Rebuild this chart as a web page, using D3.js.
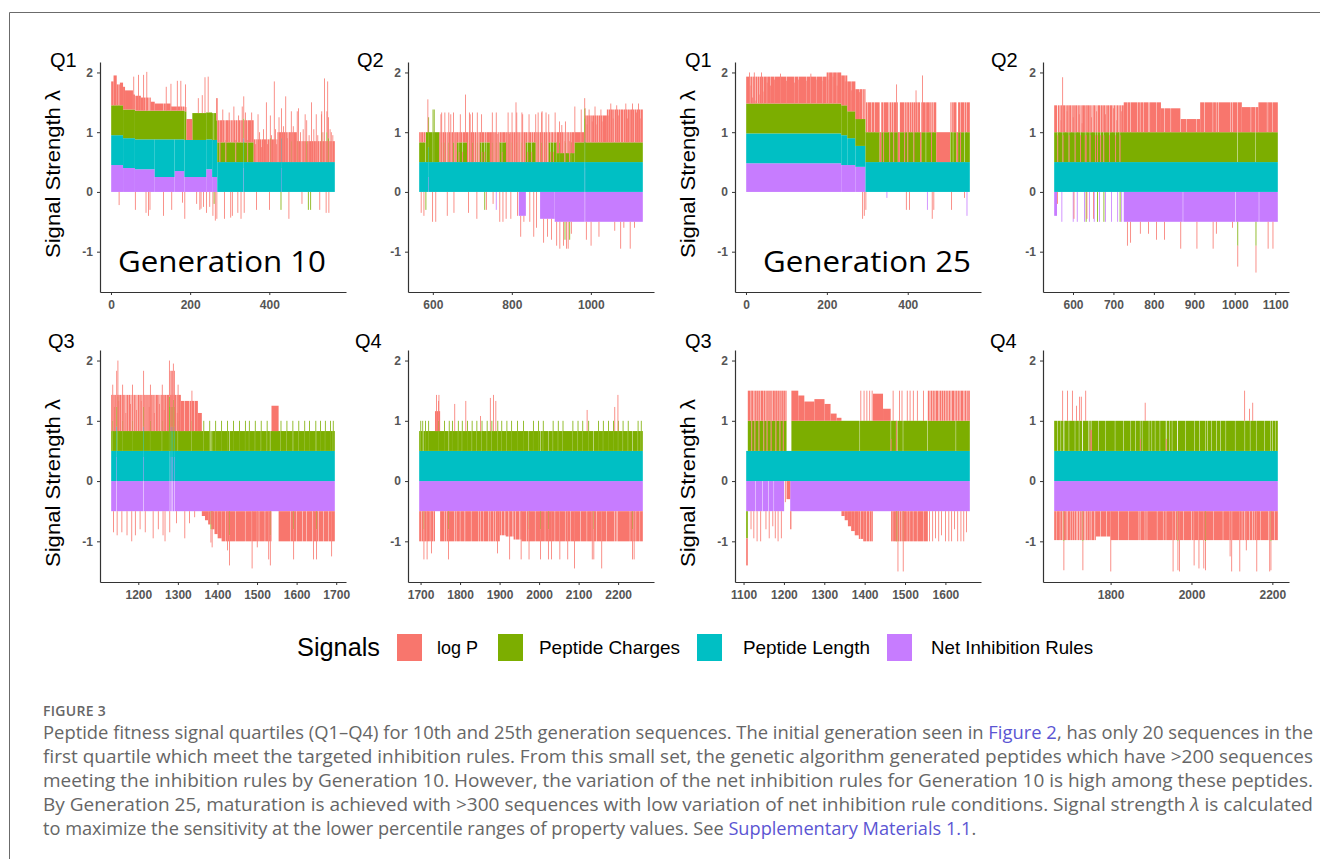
<!DOCTYPE html>
<html>
<head>
<meta charset="utf-8">
<script src="https://cdn.jsdelivr.net/npm/d3@7"></script>
<style>
body { margin: 0; background: #fff; }
svg { display: block; }
.tick text { font-family: "Liberation Sans", Arial, sans-serif; font-size: 12px; font-weight: bold; fill: #555; }
</style>
</head>
<body>
<svg width="1320" height="859"></svg>
<script>
// Runs are [firstSeq, lastSeq, value]; spikes are single sequences that differ from the run.
// Spike groups: [signal, [[seq, value], ...]] or [signal, value, [seq, ...]]

// Generation 10, Q1 (sequences 1-565)
const g10q1Net = [[1,30,0.45],[31,60,0.4],[61,110,0.38],[111,160,0.25],[161,185,0.35],[186,240,0.25],[241,255,0.38],[256,268,0.25]];
const g10q1Len = [[1,110,0.5],[111,160,0.63],[161,185,0.53],[186,240,0.62],[241,255,0.5],[256,268,0.62],[269,565,0.5]];
const g10q1Chg = [[1,30,0.5],[31,190,0.48],[191,205,0],[206,265,0.45],[266,360,0.33],[361,565,0]];
const g10q1LogP = [[1,6,0.4],[7,14,0.5],[15,22,0.35],[23,35,0.38],[36,55,0.32],[56,75,0.25],[76,100,0.22],[101,110,0.15],[111,150,0.12],[151,190,0.07],[191,205,0.35],[206,265,0],[266,360,0.37],[361,420,0.38],[421,470,0.5],[471,565,0.35]];
const g10q1Spikes = [
  ["logP", [[57,0.55],[69,0.6],[82,0.6],[90,0.65],[139,0.4],[151,0.45],[167,0.5],[176,0.5],[188,0.45],[220,0.25],[230,0.3],[237,0.6],[245,0.6],[282,0.55],[298,0.5],[310,0.6],[322,0.45],[331,0.6],[339,0.5],[355,0.5],[371,0.8],[392,1.0],[412,1.35],[424,0.75],[441,1.1],[473,0.9],[490,0.8],[506,1.0],[518,0.8],[531,0.8],[539,1.4],[547,1.35],[556,0.5]]],
  ["logP", [[365,0.3],[375,0.5],[380,0.25],[385,0.55],[395,0.3],[405,0.45],[415,0.55],[418,0.3],[435,0.6],[445,0.4],[460,0.6],[478,0.5],[485,0.55],[495,0.3],[500,0.45],[512,0.55],[522,0.45],[535,0.5],[553,0.55],[560,0.45]]],
  ["logP", [[20,-0.22],[61,-0.3],[88,-0.35],[94,-0.4],[98,-0.3],[132,-0.4],[153,-0.3],[180,-0.18],[186,-0.45],[216,-0.2],[224,-0.3],[227,-0.28],[233,-0.25],[241,-0.35],[249,-0.25],[257,-0.4],[263,-0.48],[267,-0.45],[286,-0.45],[302,-0.43],[306,-0.4],[320,-0.35],[328,-0.45],[336,-0.35],[367,-0.3],[400,-0.3],[449,-0.45],[482,-0.2],[527,-0.3],[543,-0.35],[550,-0.35]]],
  ["chg", [[260,-0.2],[429,-0.3],[498,-0.3],[504,-0.3],[402,0.4],[455,0.35],[470,0.35],[494,0.35],[532,0.5],[545,0.5],[549,0.4],[275,0],[290,0],[315,0],[345,0]]],
  ["net", [[335,0.4],[430,0.4]]]
];

// Generation 10, Q2 (sequences 566-1131)
const g10q2Net = [[818,835,-0.4],[872,908,-0.45],[909,1131,-0.5]];
const g10q2Len = [[566,1131,0.5]];
const g10q2Chg = [[566,581,0.33],[582,616,0.5],[617,660,0],[661,686,0.33],[687,718,0],[719,744,0.33],[745,768,0],[769,785,0.33],[786,834,0],[835,860,0.33],[861,892,0],[893,913,0.33],[914,958,0.15],[959,1131,0.33]];
const g10q2LogP = [[566,581,0.17],[582,616,0],[617,660,0.5],[661,686,0.17],[687,718,0.5],[719,744,0.17],[745,768,0.5],[769,785,0.17],[786,834,0.5],[835,860,0.17],[861,892,0.5],[893,913,0.17],[914,958,0.35],[959,985,0.17],[986,1040,0.45],[1041,1131,0.55]];
const g10q2Spikes = [
  ["chg", 0.33, [622,630,640,652,692,700,712,750,760,790,800,812,825,866,875,886,920,935,950]],
  ["chg", 0, [666,675,724,735,775,840,850,898,905]],
  ["logP", 0, [625,635,648,656,695,705,715,755,765,795,805,818,829,870,880,890]],
  ["logP", [[990,0.3],[995,0.55],[1003,0.35],[1010,0.6],[1015,0.3],[1025,0.55],[1030,0.35],[1045,0.45],[1050,0.65],[1056,0.4],[1065,0.62],[1070,0.45],[1088,0.65],[1092,0.4],[1105,0.65],[1115,0.5],[1120,0.65],[1126,0.4]]],
  ["logP", [[587,0.55],[620,0.8],[645,0.8],[669,0.47],[682,0.8],[694,0.8],[723,0.47],[764,0.47],[793,0.47],[810,1.0],[827,0.8],[843,0.47],[860,0.47],[876,0.85],[893,0.47],[909,0.5],[926,0.47],[959,0.6],[975,0.55]]],
  ["logP", [[570,-0.35],[577,-0.4],[599,-0.5],[607,-0.5],[636,-0.4],[653,-0.35],[690,-0.35],[711,-0.45],[735,-0.3],[752,-0.2],[769,-0.5],[777,-0.5],[785,-0.45],[797,-0.45],[814,-0.4],[822,-0.35],[830,-0.1],[845,-0.5],[855,-0.75],[862,-0.6],[880,-0.4],[890,-0.3],[900,-0.35],[913,-0.4],[921,-0.45],[930,-0.4],[938,-0.45],[942,-0.45],[950,-0.2],[988,-0.3],[1000,-0.4],[1020,-0.25],[1060,-0.15],[1075,-0.45],[1083,-0.1],[1099,-0.45],[1110,-0.1]]],
  ["chg", [[600,0.88],[603,0.88],[984,0.9],[582,-0.3],[731,-0.3],[934,-0.3],[946,-0.3]]],
  ["net", [[589,0.25],[760,-0.3],[985,0.4]]]
];

// Generation 10, Q3 (sequences 1132-1696)
const g10q3Net = [[1132,1696,-0.5]];
const g10q3Len = [[1132,1696,0.5]];
const g10q3Chg = [[1132,1696,0.33]];
const g10q3LogP = [[1132,1307,0.6],[1308,1350,0.5],[1351,1360,0.3],[1361,1368,-0.08],[1369,1376,-0.15],[1377,1384,-0.22],[1385,1392,-0.3],[1393,1400,-0.38],[1401,1410,-0.45],[1411,1536,-0.5],[1537,1554,0.42],[1555,1696,-0.5]];
const g10q3Spikes = [
  ["logP", [[1137,-0.35],[1146,-0.4],[1158,-0.35],[1171,-0.4],[1183,-0.5],[1192,-0.4],[1204,-0.3],[1217,-0.35],[1237,-0.45],[1250,-0.3],[1262,-0.4],[1267,-0.5],[1279,-0.35],[1296,-0.2],[1317,-0.45],[1329,-0.2],[1342,-0.1],[1425,-0.65],[1487,-0.95],[1500,-0.6],[1529,-0.8],[1642,-0.8],[1688,-0.75]]],
  ["logP", 0, [1141,1152,1164,1176,1188,1198,1210,1222,1232,1244,1256,1272,1289,1302,1420,1445,1470,1505,1520,1585,1600,1615,1625,1640,1655,1668,1680]],
  ["logP", [[1139,0.4],[1150,0.5],[1168,0.3],[1180,0.45],[1195,0.35],[1207,0.5],[1227,0.4],[1240,0.3],[1253,0.45],[1265,0.35],[1285,0.4],[1298,0.3]]],
  ["chg", 0.5, [1135,1160,1185,1230,1260,1300,1335,1365,1380,1395,1410,1425,1440,1455,1470,1480,1495,1510,1525,1560,1575,1590,1605,1620,1632,1648,1660,1672,1685,1692]],
  ["chg", [[1148,0.9],[1278,0.9],[1288,0.85],[1383,-0.3],[1386,-0.3],[1430,-0.4],[1533,-0.4],[1592,-0.3],[1650,-0.3]]],
  ["net", 0.4, [1145,1213,1280,1283,1286,1291]]
];

// Generation 10, Q4 (sequences 1697-2262)
const g10q4Net = [[1697,2262,-0.5]];
const g10q4Len = [[1697,2262,0.5]];
const g10q4Chg = [[1697,2262,0.33]];
const g10q4LogP = [[1697,1736,-0.5],[1737,1749,0.33],[1750,1900,-0.5],[1901,1915,-0.4],[1916,1935,-0.42],[1936,1955,-0.47],[1956,2262,-0.5]];
const g10q4Spikes = [
  ["chg", 0.5, [1700,1705,1712,1720,1745,1760,1772,1780,1795,1805,1818,1830,1842,1855,1868,1880,1895,1905,1918,1930,1945,1960,1985,1998,2010,2035,2048,2060,2085,2098,2110,2125,2150,2162,2175,2188,2200,2212,2225,2250,2258]],
  ["logP", 0, [1702,1710,1724,1733,1760,1766,1790,1800,1812,1828,1846,1860,1872,1905,1912,1922,1932,1940,1950,1968,1990,2015,2040,2066,2080,2105,2145,2170,2195,2230,2245,2255]],
  ["logP", [[1740,0.6],[1746,0.6],[1786,0.45],[1814,0.5],[1851,0.25],[1876,0.55],[1884,0.6],[1890,0.5],[2121,0.35],[2191,0.4],[2199,0.6],[1716,-0.8],[1727,-0.7],[1894,-0.7],[1925,-0.8],[1954,-0.8],[2031,-0.8],[2052,-0.8],[2072,-0.8],[2089,-0.95],[2134,-0.8],[2158,-0.95],[2240,-0.8]]],
  ["chg", -0.3, [1708,1770,1974,2003,2023,2138,2236]]
];

// Generation 25, Q1 (sequences 1-553)
const g25q1Net = [[1,235,0.48],[236,270,0.45],[271,295,0.42]];
const g25q1Len = [[1,250,0.5],[251,270,0.45],[271,295,0.35],[296,553,0.5]];
const g25q1Chg = [[1,250,0.5],[251,295,0.45],[296,330,0.5],[331,334,0],[335,375,0.5],[376,380,0],[381,430,0.5],[431,433,0],[434,470,0.5],[471,505,0],[506,520,0.5],[521,524,0],[525,553,0.5]];
const g25q1LogP = [[1,199,0.45],[200,235,0.52],[236,295,0.5],[296,553,0.5]];
const g25q1Spikes = [
  ["logP", [[16,0.1],[24,0.05],[34,0.15],[44,0.2],[60,0.3],[120,0.35],[150,0.38],[205,0.4],[288,-0.45],[292,-0.4],[296,-0.3],[396,-0.3],[404,-0.3],[460,-0.45],[464,-0.3],[508,-0.3],[540,-0.1],[372,0.8],[436,0.95],[420,0.7]]],
  ["logP", [[8,0.52],[12,0.3],[20,0.52],[28,0],[38,0.52],[52,0.35],[70,0.4],[85,0.5],[100,0.38],[130,0.4],[160,0.5],[175,0.4],[190,0.38],[215,0.45],[225,0.3],[245,0.4],[260,0.35],[280,0.45]]],
  ["logP", 0, [300,310,318,352,360,398,410,425,445,455,505,512,545]],
  ["chg", 0, [340,355,365,392,400,415,445,458,512,530,540]],
  ["net", [[348,-0.1],[448,-0.3],[546,-0.4]]]
];

// Generation 25, Q2 (sequences 554-1106)
const g25q2Net = [[554,560,-0.4],[726,1106,-0.5]];
const g25q2Len = [[554,1106,0.5]];
const g25q2Chg = [[554,1106,0.5]];
const g25q2LogP = [[554,725,0.45],[726,817,0.5],[818,865,0.4],[866,914,0.22],[915,1017,0.5],[1018,1058,0.42],[1059,1106,0.5]];
const g25q2Spikes = [
  ["chg", 0, [562,575,590,605,618,630,642,655,668,690,705]],
  ["logP", 0, [566,581,596,611,624,636,648,661,674,684,697,712,760,775,790,842,880,925,960,990,1040,1080]],
  ["logP", [[570,0.2],[585,0.35],[600,0.25],[615,0.3],[622,0.15],[645,0.25],[658,0.35],[680,0.3],[700,0.4],[708,0.2],[720,0.35]]],
  ["net", -0.5, [572,600,610,628,640,652,665,680,695,710,720]],
  ["net", 0, [872,1002,1060]],
  ["chg", [[632,-0.5],[660,-0.5],[676,-0.5],[716,-0.5],[1007,-0.4],[1052,-0.4]]],
  ["logP", [[561,-0.2],[602,-0.45],[634,-0.45],[650,-0.45],[734,-0.4],[742,-0.35],[766,-0.2],[786,-0.2],[806,-0.3],[826,-0.3],[866,-0.45],[906,-0.45],[946,-0.45],[954,-0.2],[994,-0.1],[1007,-0.35],[1052,-0.45],[1082,-0.45],[1094,-0.45],[574,0.92]]]
];

// Generation 25, Q3 (sequences 1107-1660)
const g25q3Net = [[1107,1200,-0.5],[1216,1660,-0.5]];
const g25q3Len = [[1107,1660,0.5]];
const g25q3Chg = [[1107,1110,-0.45],[1111,1206,0.5],[1219,1660,0.5]];
const g25q3LogP = [[1107,1110,-0.45],[1111,1206,0.5],[1207,1218,-0.3],[1219,1235,0.5],[1236,1250,0.42],[1251,1275,0.32],[1276,1300,0.36],[1301,1315,0.28],[1316,1330,0.12],[1331,1342,0.05],[1343,1350,-0.08],[1351,1358,-0.15],[1359,1366,-0.25],[1367,1375,-0.33],[1376,1385,-0.4],[1386,1396,-0.46],[1397,1420,-0.5],[1421,1445,0.45],[1446,1465,0.2],[1466,1556,-0.5],[1557,1660,0.5]];
const g25q3Spikes = [
  ["chg", 0, [1120,1128,1138,1150,1158,1168,1180,1190,1198,1388,1465,1556,1626]],
  ["logP", [[1118,-0.3],[1125,-0.45],[1133,-0.5],[1142,-0.5],[1155,-0.3],[1163,-0.45],[1172,-0.25],[1178,-0.45],[1185,-0.5],[1193,-0.45],[1203,-0.35]]],
  ["logP", 0.5, [1390,1398,1405,1412,1418,1470,1478,1486,1492,1505,1512,1520,1530,1545]],
  ["logP", [[1560,-0.5],[1568,-0.5],[1575,-0.45],[1583,-0.5],[1590,-0.4],[1600,-0.5],[1608,-0.5],[1615,-0.5],[1622,-0.3],[1630,-0.5],[1638,-0.5],[1645,-0.5],[1652,-0.35]]],
  ["logP", 0, [1563,1572,1586,1595,1604,1612,1626,1634,1648,1656]],
  ["net", 0, [1130,1147,1162,1175]],
  ["chg", -0.5, [1478,1482,1495]]
];

// Generation 25, Q4 (sequences 1661-2213)
const g25q4Net = [[1661,2213,-0.5]];
const g25q4Len = [[1661,2213,0.5]];
const g25q4Chg = [[1661,2213,0.5]];
const g25q4LogP = [[1661,1763,-0.48],[1764,1800,-0.42],[1801,2213,-0.48]];
const g25q4Spikes = [
  ["chg", 0, [1669,1677,1685,1697,1712,1722,1730,1745,1770,1788,1811,1832,1850,1862,1878,1895,1902,1910,1922,1938,1946,1952,1965,1985,2008,2020,2040,2050,2062,2072,2085,2108,2132,2145,2160,2180,2200,2207]],
  ["logP", 0, [1667,1675,1690,1700,1710,1718,1735,1742,1760,1775,1790,1820,1845,1870,1890,1915,1930,1960,1980,2000,2055,2078,2100,2125,2155,2170,2190,2205]],
  ["logP", [[1681,0.5],[1693,0.5],[1705,0.5],[1715,0.25],[1723,0.4],[1727,0.4],[1738,0.5],[1885,0.3],[2131,0.5],[2143,0.2],[2151,0.3],[1800,-1.0],[1954,-1.0],[1970,-1.0],[2006,-0.9],[2018,-0.95],[2030,-0.95],[2095,-0.75],[2099,-1.0],[2119,-1.0],[2135,-0.65],[2161,-1.0],[2193,-1.0]]],
  ["chg", -0.5, [1684,1731,1966,2034,2196]],
  ["chg", 0, [1749,1752,1873,1937]],
  ["logP", 0.35, [1749,1752]],
  ["logP", 0.2, [1873,1937]]
];

const KEYS = ["net", "len", "chg", "logP"]; // stacked outward from zero
const COLORS = { logP: "#F8766D", chg: "#7CAE00", len: "#00BFC4", net: "#C77CFF" };
const LEGEND_KEYS = ["logP", "chg", "len", "net"];
const LEGEND_LABELS = ["log P", "Peptide Charges", "Peptide Length", "Net Inhibition Rules"];
const Y_TICKS = [-1, 0, 1, 2];

const panels = [
  { label: "Q1", first: 1, last: 565, left: 100, row: 0, lx: 50, ticks: [0, 200, 400], runs: [g10q1Net, g10q1Len, g10q1Chg, g10q1LogP], spikes: g10q1Spikes, title: true },
  { label: "Q2", first: 566, last: 1131, left: 408, row: 0, lx: 357, ticks: [600, 800, 1000], runs: [g10q2Net, g10q2Len, g10q2Chg, g10q2LogP], spikes: g10q2Spikes },
  { label: "Q1", first: 1, last: 553, left: 735, row: 0, lx: 685, ticks: [0, 200, 400], runs: [g25q1Net, g25q1Len, g25q1Chg, g25q1LogP], spikes: g25q1Spikes, title: true },
  { label: "Q2", first: 554, last: 1106, left: 1043, row: 0, lx: 991, ticks: [600, 700, 800, 900, 1000, 1100], runs: [g25q2Net, g25q2Len, g25q2Chg, g25q2LogP], spikes: g25q2Spikes },
  { label: "Q3", first: 1132, last: 1696, left: 100, row: 1, lx: 48, ticks: [1200, 1300, 1400, 1500, 1600, 1700], runs: [g10q3Net, g10q3Len, g10q3Chg, g10q3LogP], spikes: g10q3Spikes, title: true },
  { label: "Q4", first: 1697, last: 2262, left: 408, row: 1, lx: 355, ticks: [1700, 1800, 1900, 2000, 2100, 2200], runs: [g10q4Net, g10q4Len, g10q4Chg, g10q4LogP], spikes: g10q4Spikes },
  { label: "Q3", first: 1107, last: 1660, left: 735, row: 1, lx: 685, ticks: [1100, 1200, 1300, 1400, 1500, 1600], runs: [g25q3Net, g25q3Len, g25q3Chg, g25q3LogP], spikes: g25q3Spikes, title: true },
  { label: "Q4", first: 1661, last: 2213, left: 1043, row: 1, lx: 990, ticks: [1800, 2000, 2200], runs: [g25q4Net, g25q4Len, g25q4Chg, g25q4LogP], spikes: g25q4Spikes }
];

const rows = [
  { top: 62, bottom: 292, labelY: 67, titleY: 174 },
  { top: 350, bottom: 582, labelY: 348, titleY: 483 }
];
const panelW = 246;

const svg = d3.select("svg");
svg.append("rect").attr("width", 1320).attr("height", 859).attr("fill", "#fff");
svg.append("path").attr("d", "M9.5,859V12.5H1320").attr("fill", "none").attr("stroke", "#6b6b6b");

function buildRows(p) {
  const out = d3.range(p.first, p.last + 1).map(seq => ({ seq, net: 0, len: 0, chg: 0, logP: 0 }));
  KEYS.forEach((k, i) => p.runs[i].forEach(([a, b, v]) => {
    for (let s = a; s <= b; s++) out[s - p.first][k] = v;
  }));
  p.spikes.forEach(sp => {
    const pairs = sp.length === 3 ? sp[2].map(s => [s, sp[1]]) : sp[1];
    pairs.forEach(([s, v]) => { if (s >= p.first && s <= p.last) out[s - p.first][sp[0]] = v; });
  });
  return out;
}

panels.forEach(p => {
  const r = rows[p.row];
  const pad = (p.last - p.first + 1) * 0.05;
  const x = d3.scaleLinear().domain([p.first - 0.5 - pad, p.last + 0.5 + pad]).range([p.left, p.left + panelW]);
  const y = d3.scaleLinear().domain([-1.675, 2.175]).range([r.bottom, r.top]);

  const data = buildRows(p);
  const series = d3.stack().keys(KEYS).offset(d3.stackOffsetDiverging)(data);
  const g = svg.append("g");

  series.forEach(s => {
    // merge neighbouring sequences with identical extents into one rect
    const segs = [];
    s.forEach((d, j) => {
      if (d[0] === d[1]) return;
      const last = segs[segs.length - 1];
      if (last && last.end === j - 1 && last.y0 === d[0] && last.y1 === d[1]) last.end = j;
      else segs.push({ start: j, end: j, y0: d[0], y1: d[1] });
    });
    g.selectAll(null).data(segs).join("rect")
      .attr("x", d => x(data[d.start].seq - 0.5))
      .attr("width", d => Math.max(0.8, x(data[d.end].seq + 0.5) - x(data[d.start].seq - 0.5)))
      .attr("y", d => y(Math.max(d.y0, d.y1)))
      .attr("height", d => Math.abs(y(d.y0) - y(d.y1)))
      .attr("fill", COLORS[s.key]);
  });

  const xa = svg.append("g").attr("transform", `translate(0,${r.bottom})`)
    .call(d3.axisBottom(x).tickValues(p.ticks).tickSize(3).tickSizeOuter(0).tickPadding(5).tickFormat(d => String(d)));
  const ya = svg.append("g").attr("transform", `translate(${p.left},0)`)
    .call(d3.axisLeft(y).tickValues(Y_TICKS).tickSize(3).tickSizeOuter(0).tickPadding(4).tickFormat(d => String(d)));
  [xa, ya].forEach(a => {
    a.select(".domain").attr("stroke", "#333").attr("stroke-width", 1.2);
    a.selectAll(".tick line").attr("stroke", "#333");
  });

  svg.append("text")
    .attr("x", p.lx).attr("y", r.labelY)
    .attr("font-family", "Liberation Sans, Arial, sans-serif").attr("font-size", 20)
    .text(p.label);

  if (p.title) {
    svg.append("text")
      .attr("transform", `translate(${p.left - 40},${r.titleY}) rotate(-90)`)
      .attr("text-anchor", "middle")
      .attr("font-family", "Liberation Sans, Arial, sans-serif").attr("font-size", 21)
      .attr("textLength", 168).attr("lengthAdjust", "spacingAndGlyphs")
      .text("Signal Strength λ");
  }
});

// generation labels
[["Generation 10", 118], ["Generation 25", 763]].forEach(([t, gx]) => {
  svg.append("text")
    .attr("x", gx).attr("y", 272)
    .attr("font-family", "Open Sans, sans-serif").attr("font-size", 29)
    .attr("textLength", 208).attr("lengthAdjust", "spacingAndGlyphs")
    .text(t);
});

// legend
const legend = svg.append("g").attr("font-family", "Liberation Sans, Arial, sans-serif");
legend.append("text").attr("x", 297).attr("y", 656).attr("font-size", 25)
  .attr("textLength", 83).attr("lengthAdjust", "spacingAndGlyphs").text("Signals");
const keyX = [397, 498, 697, 887];
const labelX = [437, 539, 743, 931];
const labelW = [41, 141, 127, 162];
LEGEND_KEYS.forEach((k, i) => {
  legend.append("rect").attr("x", keyX[i]).attr("y", 634).attr("width", 25).attr("height", 27)
    .attr("fill", COLORS[k]);
  legend.append("text").attr("x", labelX[i]).attr("y", 654).attr("font-size", 19)
    .attr("textLength", labelW[i]).attr("lengthAdjust", "spacingAndGlyphs")
    .text(LEGEND_LABELS[i]);
});

// caption
const cap = svg.append("g").attr("font-family", "Open Sans, sans-serif").attr("fill", "#666");
cap.append("text").attr("x", 43).attr("y", 716).attr("font-size", 14).attr("font-weight", 600)
  .attr("letter-spacing", 0.3).text("FIGURE 3");
const LINK = "#5b55d3";
const captionLines = [
  [["Peptide fitness signal quartiles (Q1–Q4) for 10th and 25th generation sequences. The initial generation seen in "], ["Figure 2", LINK], [", has only 20 sequences in the"]],
  [["first quartile which meet the targeted inhibition rules. From this small set, the genetic algorithm generated peptides which have >200 sequences"]],
  [["meeting the inhibition rules by Generation 10. However, the variation of the net inhibition rules for Generation 10 is high among these peptides."]],
  [["By Generation 25, maturation is achieved with >300 sequences with low variation of net inhibition rule conditions. Signal strength "], ["λ", null, "italic"], [" is calculated"]],
  [["to maximize the sensitivity at the lower percentile ranges of property values. See "], ["Supplementary Materials 1.1", LINK], ["."]]
];
captionLines.forEach((parts, i) => {
  const t = cap.append("text").attr("x", 43).attr("y", 739 + i * 24).attr("font-size", 18.2);
  if (i < captionLines.length - 1) t.attr("textLength", 1270).attr("lengthAdjust", "spacingAndGlyphs");
  parts.forEach(([s, col, style]) => {
    const ts = t.append("tspan").text(s);
    if (col) ts.attr("fill", col);
    if (style) ts.attr("font-style", style);
  });
});
</script>
</body>
</html>
